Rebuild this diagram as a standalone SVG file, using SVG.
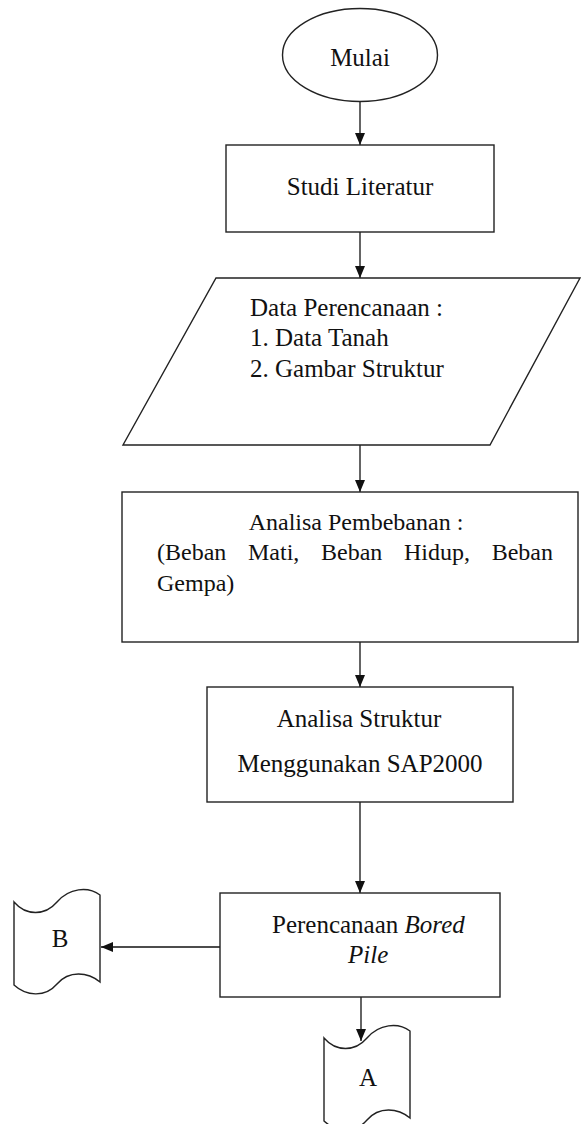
<svg xmlns="http://www.w3.org/2000/svg" width="584" height="1124" viewBox="0 0 584 1124">
<style>
.s{fill:#fff;stroke:#222;stroke-width:1.4}
.t{font-family:"Liberation Serif","Times New Roman",serif;font-size:25px;fill:#111}
.m{text-anchor:middle}
.i{font-style:italic}
.c{stroke:#111;stroke-width:1.3;fill:none}
</style>
<defs>
<marker id="ah" markerWidth="12" markerHeight="10" refX="12" refY="5" orient="auto" markerUnits="userSpaceOnUse">
<path d="M0,0 L12,5 L0,10 Z" fill="#111"/>
</marker>
</defs>
<rect width="584" height="1124" fill="#fff"/>
<g id="connectors">
<line class="c" x1="360" y1="101.5" x2="360" y2="145" marker-end="url(#ah)"/>
<line class="c" x1="360" y1="232" x2="360" y2="278" marker-end="url(#ah)"/>
<line class="c" x1="360" y1="445" x2="360" y2="492" marker-end="url(#ah)"/>
<line class="c" x1="360" y1="642" x2="360" y2="687" marker-end="url(#ah)"/>
<line class="c" x1="360" y1="802" x2="360" y2="893" marker-end="url(#ah)"/>
<line class="c" x1="361" y1="997" x2="361" y2="1041" marker-end="url(#ah)"/>
<line class="c" x1="220" y1="947" x2="101" y2="947" marker-end="url(#ah)"/>
</g>
<g id="mulai">
<ellipse class="s" cx="360" cy="55" rx="77.5" ry="46.5"/>
<text class="t m" x="360" y="66">Mulai</text>
</g>
<g id="studi">
<rect class="s" x="226" y="145" width="268" height="87"/>
<text class="t m" x="360" y="195">Studi Literatur</text>
</g>
<g id="data">
<polygon class="s" points="216,278 580,278 490,445 123,445"/>
<text class="t" x="250" y="316">Data Perencanaan :</text>
<text class="t" x="250" y="346">1. Data Tanah</text>
<text class="t" x="250" y="377">2. Gambar Struktur</text>
</g>
<g id="pembebanan">
<rect class="s" x="122" y="492" width="456" height="150"/>
<text class="t m" x="356" y="530" style="font-size:24px">Analisa Pembebanan :</text>
<text class="t" y="560" style="font-size:24px"><tspan x="157">(Beban</tspan><tspan x="248">Mati,</tspan><tspan x="321">Beban</tspan><tspan x="404">Hidup,</tspan><tspan x="491.7">Beban</tspan></text>
<text class="t" x="157" y="591" style="font-size:24px">Gempa)</text>
</g>
<g id="struktur">
<rect class="s" x="207" y="687" width="306" height="115"/>
<text class="t m" x="359" y="727">Analisa Struktur</text>
<text class="t m" x="360" y="772">Menggunakan SAP2000</text>
</g>
<g id="perencanaan">
<rect class="s" x="220" y="893" width="280" height="104"/>
<text class="t" x="272" y="933">Perencanaan <tspan class="i">Bored</tspan></text>
<text class="t i" x="348" y="963">Pile</text>
</g>
<g id="B">
<path class="s" d="M14,902 C26,916 45,916 57,902 C69,888 88,886 100,895 L100,982 C88,972 69,970 57,984 C45,998 26,996 14,985 Z"/>
<text class="t m" x="60" y="947">B</text>
</g>
<g id="A">
<path class="s" d="M324,1038 C336,1052 355,1052 367,1038 C379,1024 398,1022 410,1031 L410,1118 C398,1108 379,1106 367,1120 C355,1134 336,1132 324,1121 Z"/>
<text class="t m" x="368" y="1086">A</text>
</g>
</svg>
